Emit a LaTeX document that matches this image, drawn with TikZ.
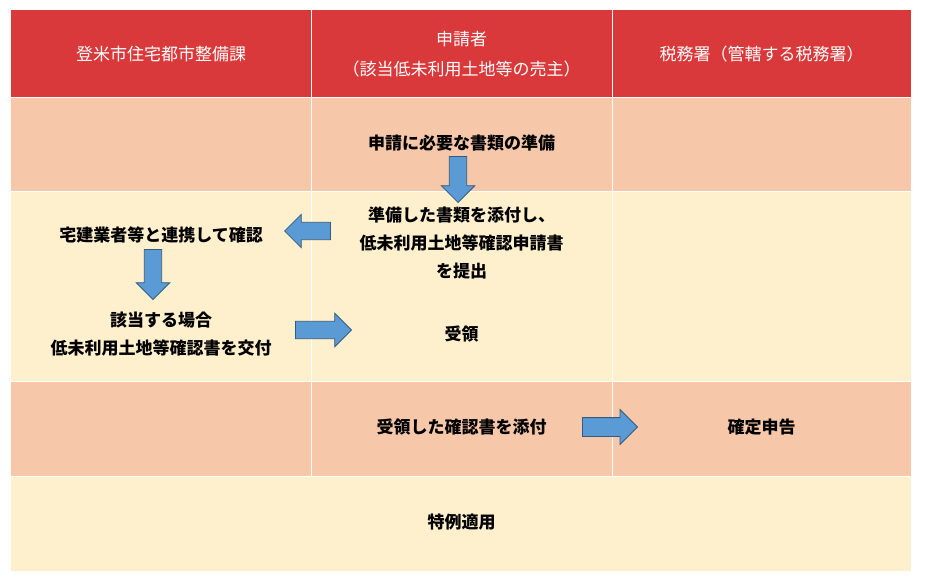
\documentclass[tikz,border=0pt]{standalone}
\usepackage{fontspec}
\setmainfont{Noto Sans CJK JP}
\usepackage{xcolor}
\usepackage{tikz}
\usetikzlibrary{positioning, shapes.arrows, calc}
\definecolor{tb-red}{RGB}{217,57,58}
\definecolor{tb-salmon}{RGB}{246,199,169}
\definecolor{tb-cream}{RGB}{255,240,205}
\definecolor{tb-blue}{RGB}{91,155,213}
\definecolor{tb-edge}{RGB}{52,90,128}
\tikzset{
  tb@head/.style={
    text=white, align=center, inner sep=0pt,
    font=\fontsize{17}{30}\selectfont
  },
  tb@step/.style={
    text=black, align=center, inner sep=0pt,
    font=\fontsize{17}{28}\selectfont\bfseries
  },
  tb@grid/.style={white, line width=0.8pt},
  tb@arr/.style={
    single arrow, draw=tb-edge, fill=tb-blue, line width=0.8pt,
    inner xsep=0pt, inner ysep=8.3pt, minimum height=50pt,
    single arrow head extend=8pt, single arrow tip angle=90,
    anchor=tip
  },
}

\begin{document}
\begin{tikzpicture}[x=1pt, y=-1pt]
  \useasboundingbox (0,0) rectangle (928,586);

  % background bands
  \fill[tb-red]    (11,10)  rectangle (911,97);
  \fill[tb-salmon] (11,97)  rectangle (911,191);
  \fill[tb-cream]  (11,191) rectangle (911,381);
  \fill[tb-salmon] (11,381) rectangle (911,476);
  \fill[tb-cream]  (11,476) rectangle (911,571);
  \draw[tb@grid] (311,10) -- (311,476);
  \draw[tb@grid] (612,10) -- (612,476);
  \draw[tb@grid] (11,97) -- (911,97);
  \draw[tb@grid] (11,191) -- (911,191);
  \draw[tb@grid] (11,381) -- (911,381);
  \draw[tb@grid] (11,476) -- (911,476);

  % header
  \node[tb@head] (city)  at (161,54)   {登米市住宅都市整備課};
  \node[tb@head] (appl)  at (461.5,54) {申請者\\（該当低未利用土地等の売主）};
  \node[tb@head] (tax)   at (761.5,54) {税務署（管轄する税務署）};

  % steps
  \node[tb@step] (prep)    at (461.5,143) {申請に必要な書類の準備};
  \node[tb@step] (submit)  at (461.5,243) {準備した書類を添付し、\\低未利用土地等確認申請書\\を提出};
  \node[tb@step] (check)   at (161,235)   {宅建業者等と連携して確認};
  \node[tb@step] (issue)   at (161,334)   {該当する場合\\低未利用土地等確認書を交付};
  \node[tb@step] (recv)    at (461.5,334) {受領};
  \node[tb@step] (attach)  at (461.5,427) {受領した確認書を添付};
  \node[tb@step] (return)  at (761.5,427) {確定申告};
  \node[tb@step] (special) at (461.5,522) {特例適用};

  % block arrows (placed by their tips)
  \node[tb@arr, minimum height=46pt, rotate=-90] (a1) at (458,203) {};
  \node[tb@arr, minimum height=46pt, rotate=180] (a2) at (284,231) {};
  \node[tb@arr, rotate=-90] (a3) at (153,300) {};
  \node[tb@arr, minimum height=56pt] (a4) at (352,330) {};
  \node[tb@arr, minimum height=55pt, inner ysep=9pt] (a5) at (638,427) {};
\end{tikzpicture}
\end{document}
